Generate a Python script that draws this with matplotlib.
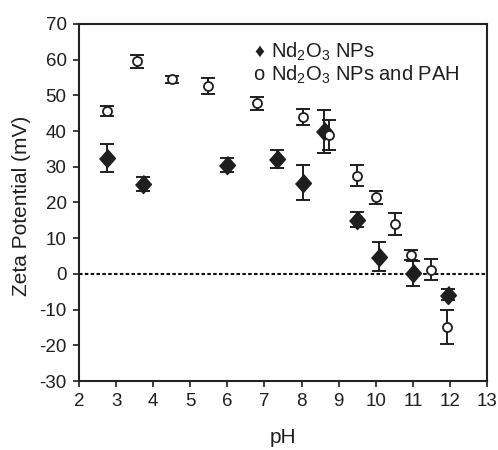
import matplotlib
matplotlib.use("Agg")
import matplotlib.pyplot as plt

plt.rcParams["font.family"] = ["Liberation Sans", "DejaVu Sans"]
plt.rcParams["mathtext.fontset"] = "custom"
plt.rcParams["mathtext.rm"] = "Liberation Sans"
plt.rcParams["axes.unicode_minus"] = False

# Nd2O3 NPs (filled diamonds)
ph_np = [2.75, 3.73, 6.0, 7.35, 8.03, 8.6, 9.5, 10.1, 11.0, 11.95]
zeta_np = [32.5, 25.2, 30.6, 32.2, 25.6, 40.0, 15.2, 4.8, 0.2, -5.8]
err_np = [4.0, 2.0, 2.0, 2.5, 5.0, 6.0, 2.0, 4.0, 3.5, 1.5]

# Nd2O3 NPs and PAH (open circles)
ph_pah = [2.76, 3.57, 4.5, 5.47, 6.81, 8.05, 8.73, 9.49, 10.0, 10.52, 10.94, 11.49, 11.93]
zeta_pah = [45.6, 59.5, 54.5, 52.6, 47.8, 44.0, 38.8, 27.5, 21.5, 14.0, 5.3, 1.2, -14.8]
err_pah = [1.5, 1.8, 1.0, 2.2, 1.8, 2.2, 4.2, 3.0, 1.8, 3.0, 1.4, 3.0, 4.8]

x_ticks = list(range(2, 14))
y_ticks = list(range(-30, 80, 10))

INK = "#1e1e1e"

fig = plt.figure(figsize=(4.98, 4.5), dpi=100)
ax = fig.add_axes([79 / 498, 1 - 381 / 450, 408 / 498, 357 / 450])

diamond = [(0, 1), (0.88, 0), (0, -1), (-0.88, 0)]
ax.errorbar(ph_np, zeta_np, yerr=err_np, fmt="none", ecolor=INK,
            elinewidth=1.4, capsize=5, capthick=1.4, zorder=2)
ax.plot(ph_np, zeta_np, ls="none", marker=diamond, ms=13, color=INK,
        mec=INK, zorder=3)

ax.errorbar(ph_pah, zeta_pah, yerr=err_pah, fmt="none", ecolor=INK,
            elinewidth=1.4, capsize=5, capthick=1.4, zorder=4)
ax.plot(ph_pah, zeta_pah, ls="none", marker="o", ms=6.5, mfc="white",
        mec=INK, mew=1.3, zorder=5)

ax.axhline(0, color="#111111", lw=1.5, ls=(0, (1.7, 1.1)), zorder=1)

ax.set_xlim(2, 13)
ax.set_ylim(-30, 70)
ax.set_xticks(x_ticks)
ax.set_yticks(y_ticks)
ax.tick_params(direction="out", length=4, width=1.2, labelsize=13.5,
               colors=INK, pad=5)
for sp in ax.spines.values():
    sp.set_linewidth(1.5)
    sp.set_color("#222222")

ax.set_xlabel("pH", fontsize=15, color=INK)
ax.xaxis.set_label_coords(0.5, -0.158)
ax.xaxis.label.set_va("center")
ax.set_ylabel("Zeta Potential (mV)", fontsize=15, color=INK)
ax.yaxis.set_label_coords(-0.14, 0.49)
ax.yaxis.label.set_va("center")

# legend written as text, like the original
fig.text(259 / 498, 1 - 52 / 450, "\u2666", fontsize=14, color=INK,
         va="center", ha="center")
fig.text(259 / 498, 1 - 75 / 450, "o", fontsize=14.5, color=INK,
         va="center", ha="center")
fig.text(271 / 498, 1 - 52 / 450, "Nd$_2$O$_3$ NPs", fontsize=14.5,
         color=INK, va="center", ha="left")
fig.text(271 / 498, 1 - 75 / 450, "Nd$_2$O$_3$ NPs and PAH", fontsize=14.5,
         color=INK, va="center", ha="left")

fig.savefig("out.png", dpi=100)
